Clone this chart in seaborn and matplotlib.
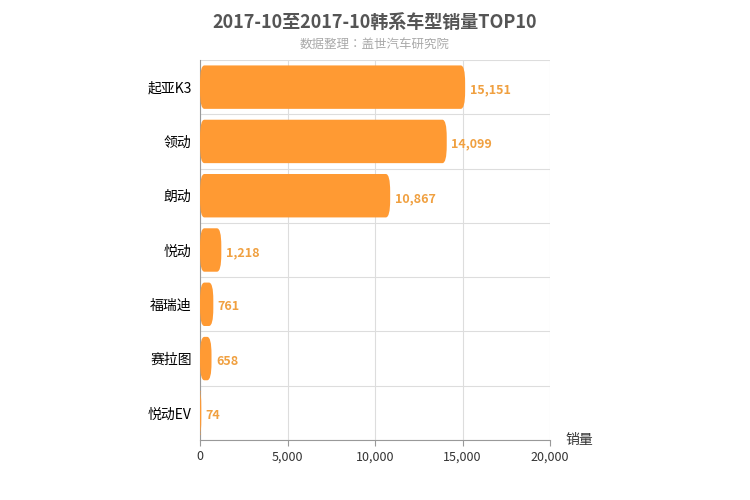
import matplotlib
matplotlib.use("Agg")
import matplotlib.pyplot as plt
import seaborn as sns
import pandas as pd
from matplotlib.patches import FancyBboxPatch

plt.rcParams["font.family"] = ["Noto Sans CJK JP", "Noto Sans CJK SC", "DejaVu Sans"]

models = ["起亚K3", "领动", "朗动", "悦动", "福瑞迪", "赛拉图", "悦动EV"]
sales = [15151, 14099, 10867, 1218, 761, 658, 74]
xticks = [0, 5000, 10000, 15000, 20000]

df = pd.DataFrame({"model": models, "sales": sales})
bar_color = "#FF9A33"

fig = plt.figure(figsize=(7.5, 5), dpi=100)
ax = fig.add_axes([200 / 750, 60 / 500, 350 / 750, 380 / 500])
sns.barplot(data=df, x="sales", y="model", order=models, color=bar_color,
            width=0.8, ax=ax, saturation=1)

# rounded bars
for p in list(ax.patches):
    x, y, w, h = p.get_x(), p.get_y(), p.get_width(), p.get_height()
    p.remove()
    r = min(w, 250)
    ax.add_patch(FancyBboxPatch((x, y), w, h,
                                boxstyle=f"round,pad=0,rounding_size={r}",
                                mutation_aspect=h / 4 / max(r, 1) * 1.6 if r else 1,
                                fc=bar_color, ec="none", zorder=3))

for i, v in enumerate(sales):
    ax.text(v + 250, i + 0.05, f"{v:,}", va="center", ha="left",
            color="#F0A040", fontsize=9, fontweight="bold")

ax.set_xlim(0, 20000)
ax.set_ylim(len(models) - 0.5, -0.5)
ax.set_xticks(xticks)
ax.set_xticklabels([f"{t:,}" for t in xticks], fontsize=9, color="#333333")
ax.tick_params(axis="y", labelsize=10, length=0, pad=6)
ax.tick_params(axis="x", length=4, color="#999999")
ax.set_xlabel("")
ax.set_ylabel("")
ax.grid(False)
for t in xticks:
    ax.axvline(t, color="#DDDDDD", lw=0.8, zorder=0)
for k in range(len(models) + 1):
    ax.axhline(k - 0.5, color="#DDDDDD", lw=0.8, zorder=0)
for s in ["top", "right"]:
    ax.spines[s].set_visible(False)
ax.spines["left"].set_color("#999999")
ax.spines["bottom"].set_color("#999999")

fig.text(0.5, 0.955, "2017-10至2017-10韩系车型销量TOP10", ha="center", va="center",
         fontsize=13, fontweight="bold", color="#555555")
fig.text(0.5, 0.912, "数据整理：盖世汽车研究院", ha="center", va="center",
         fontsize=9, color="#AAAAAA")
fig.text(565 / 750, 1 - 440 / 500, "销量", ha="left", va="center", fontsize=10, color="#333333")

fig.savefig("out.png", dpi=100)
